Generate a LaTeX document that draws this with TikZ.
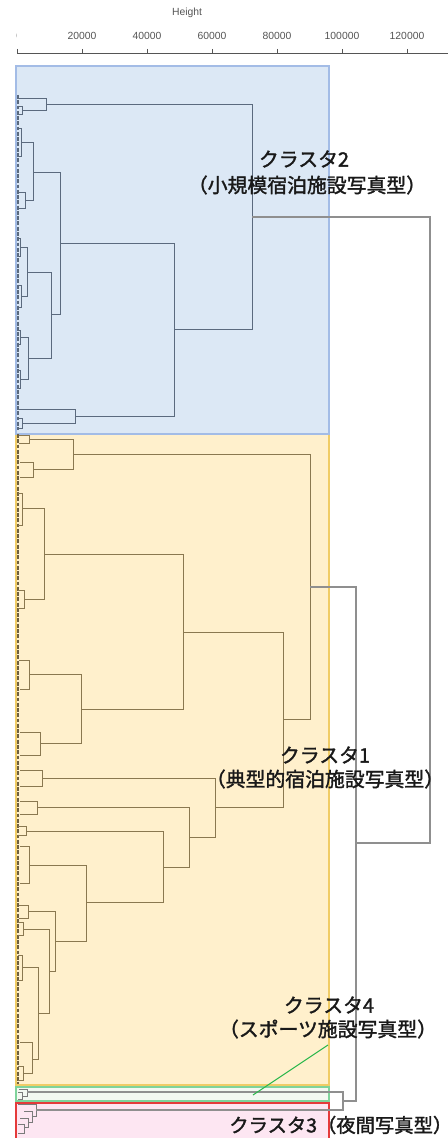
\documentclass[tikz,border=0pt]{standalone}
\usepackage{fontspec}
\setmainfont{Liberation Sans}
\newfontfamily\jp{Noto Sans CJK JP}[AutoFakeBold=1.6]
\definecolor{bluefill}{HTML}{DCE8F5}
\definecolor{blueedge}{HTML}{A3BCE6}
\definecolor{orfill}{HTML}{FFF0CC}
\definecolor{oredge}{HTML}{F0CC66}
\definecolor{grfill}{HTML}{F3F8F1}
\definecolor{gredge}{HTML}{7FD39B}
\definecolor{pkfill}{HTML}{FDE6F2}
\definecolor{pkedge}{HTML}{E53A3A}
\definecolor{ctwo}{HTML}{5B6A7E}
\definecolor{cone}{HTML}{8A7850}
\definecolor{outer}{HTML}{8F8F8F}
\definecolor{axis}{HTML}{555555}
\definecolor{greenln}{HTML}{2DB84D}
\newcommand{\bkt}[6]{\draw[#1] (#5,#3) -- (#2,#3) -- (#2,#4) -- (#6,#4);}
\begin{document}
\begin{tikzpicture}[x=0.02cm,y=-0.02cm,
  ln2/.style={draw=ctwo,line width=0.55pt},
  ln1/.style={draw=cone,line width=0.55pt},
  ln3/.style={draw=outer!85!black,line width=0.55pt},
  lno/.style={draw=outer,line width=0.6pt},
  tick/.style={font=\fontsize{5.9pt}{6pt}\selectfont,text=axis,inner sep=0pt},
  lab/.style={font=\jp\bfseries\fontsize{11.3pt}{12pt}\selectfont,text=black!90,inner sep=0pt}]
\useasboundingbox (0,0) rectangle (448,1138);
\fill[white] (0,0) rectangle (448,1138);
% axis
\node[tick] (ht) at (187,13) {Height};
\draw[axis,line width=0.5pt] (17,53) -- (448,53);
\foreach \i/\v in {1/20000,2/40000,3/60000,4/80000,5/100000,6/120000}{
  \draw[axis,line width=0.5pt] (17+65*\i,49) -- (17+65*\i,53);
  \node[tick] (t\i) at (17+65*\i,36) {\v};
}
\draw[axis,line width=0.5pt] (17,49) -- (17,53);
\begin{scope}
\clip (16,20) rectangle (40,50);
\node[tick] (t0) at (14,36) {0};
\end{scope}
% cluster boxes
\draw[fill=orfill,draw=oredge,line width=0.6pt] (16,430) rectangle (329,1085);
\draw[fill=bluefill,draw=blueedge,line width=0.6pt] (16,66) rectangle (329,434);
\draw[fill=grfill,draw=gredge,line width=0.6pt] (16,1087) rectangle (329,1101);
\draw[fill=pkfill,draw=pkedge,line width=0.6pt] (16,1103) rectangle (329,1150);
% leaf edges
\draw[ctwo,line width=1.1pt,dash pattern=on 2.2pt off 0.8pt] (17.8,95) -- (17.8,430);
\draw[cone!80!black,line width=1.1pt,dash pattern=on 2.2pt off 0.8pt] (17.8,434) -- (17.8,1084);
% ---------------- cluster 2
\bkt{ln2}{252}{104}{329}{46}{174}
\bkt{ln2}{46}{98}{110}{17}{22}
\bkt{ln2}{22}{106}{114}{18}{18}
\bkt{ln2}{174}{243}{416}{60}{75}
\bkt{ln2}{60}{172}{314}{33}{51}
\bkt{ln2}{33}{142}{200}{21}{25}
\bkt{ln2}{21}{128}{156}{18}{18}
\bkt{ln2}{25}{192}{208}{18}{18}
\bkt{ln2}{51}{272}{358}{27}{28}
\bkt{ln2}{27}{247}{296}{20}{21}
\bkt{ln2}{20}{238}{256}{17}{17}
\bkt{ln2}{21}{285}{307}{18}{18}
\bkt{ln2}{28}{337}{379}{20}{20}
\bkt{ln2}{20}{330}{344}{17}{17}
\bkt{ln2}{20}{370}{388}{17}{17}
\bkt{ln2}{75}{409}{423}{19}{22}
\bkt{ln2}{22}{418}{428}{18}{18}
% ---------------- cluster 1
\bkt{ln1}{310}{454}{719}{73}{283}
\bkt{ln1}{73}{439}{469}{29}{33}
\bkt{ln1}{29}{435}{443}{19}{19}
\bkt{ln1}{33}{462}{477}{20}{20}
\bkt{ln1}{283}{632}{807}{183}{215}
\bkt{ln1}{183}{554}{709}{44}{81}
\bkt{ln1}{44}{508}{599}{22}{24}
\bkt{ln1}{22}{493}{525}{18}{18}
\bkt{ln1}{24}{590}{608}{18}{18}
\bkt{ln1}{81}{674}{743}{29}{40}
\bkt{ln1}{29}{660}{689}{19}{20}
\bkt{ln1}{40}{732}{755}{20}{20}
\bkt{ln1}{215}{778}{837}{42}{189}
\bkt{ln1}{42}{770}{786}{20}{20}
\bkt{ln1}{189}{807}{867}{37}{163}
\bkt{ln1}{37}{801}{814}{20}{20}
\bkt{ln1}{163}{831}{902}{26}{86}
\bkt{ln1}{26}{826}{835}{18}{18}
\bkt{ln1}{86}{865}{941}{29}{55}
\bkt{ln1}{29}{846}{883}{20}{20}
\bkt{ln1}{55}{911}{971}{28}{49}
\bkt{ln1}{28}{905}{918}{19}{19}
\bkt{ln1}{49}{929}{1013}{23}{38}
\bkt{ln1}{23}{922}{935}{18}{18}
\bkt{ln1}{38}{967}{1059}{22}{32}
\bkt{ln1}{22}{955}{980}{18}{18}
\bkt{ln1}{32}{1042}{1073}{20}{23}
\bkt{ln1}{23}{1066}{1080}{18}{18}
% ---------------- cluster 4
\bkt{ln3}{27}{1089}{1096}{19}{22}
\bkt{ln3}{22}{1092}{1099}{18}{18}
% ---------------- cluster 3
\bkt{ln3}{36}{1104}{1116}{18}{32}
\bkt{ln3}{32}{1111}{1122}{24}{28}
\bkt{ln3}{28}{1118}{1127}{20}{24}
\bkt{ln3}{24}{1124}{1133}{18}{18}
% ---------------- outer merges
\bkt{lno}{343}{1092}{1110}{27}{36}
\bkt{lno}{356}{587}{1101}{310}{343}
\bkt{lno}{430}{217}{843}{252}{356}
% labels
\node[lab] (c2a) at (304,159) {クラスタ2};
\node[lab] (c2b) at (307,185) {（小規模宿泊施設写真型）};
\node[lab] (c1a) at (325,755) {クラスタ1};
\node[lab] (c1b) at (325,779) {（典型的宿泊施設写真型）};
\node[lab] (c4a) at (329,1005) {クラスタ4};
\node[lab] (c4b) at (328,1029) {（スポーツ施設写真型）};
\node[lab,font=\jp\bfseries\fontsize{11pt}{12pt}\selectfont,anchor=west] (c3) at (229,1125) {クラスタ3（夜間写真型）};
\coordinate (g1) at (328,1045);
\coordinate (g2) at (253,1095);
\draw[greenln,line width=0.6pt] (g1) -- (g2);
\end{tikzpicture}
\end{document}
